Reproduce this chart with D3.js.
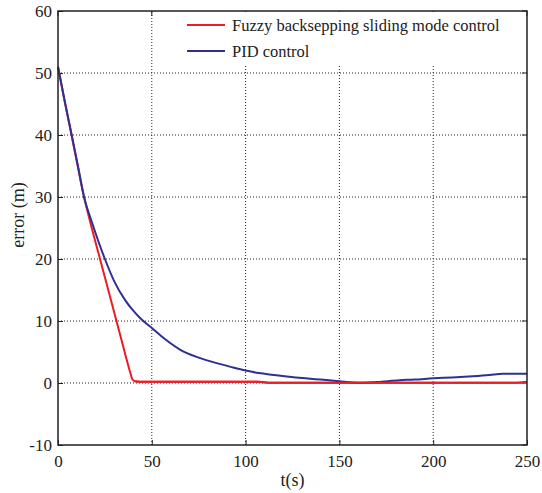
<!DOCTYPE html>
<html><head><meta charset="utf-8">
<script src="https://cdn.jsdelivr.net/npm/d3@7"></script>
<style>body{margin:0;background:#fff}svg{display:block}text{font-family:"Liberation Serif","Times New Roman",serif;fill:#222}</style>
</head><body>
<script>
const xTicks = [0, 50, 100, 150, 200, 250];
const yTicks = [-10, 0, 10, 20, 30, 40, 50, 60];
const seriesNames = ["Fuzzy backsepping sliding mode control", "PID control"];
const fuzzyT = [0, 3.5, 7.2, 10.5, 13.5, 18, 22.4, 26.8, 31, 35, 38.7, 39.6, 41, 45, 60, 80, 100, 107, 112, 150, 200, 245, 250];
const fuzzyE = [51, 45.5, 40, 35, 30.5, 25, 20, 15, 10.2, 5.6, 1.5, 0.6, 0.3, 0.2, 0.2, 0.2, 0.2, 0.2, 0.05, 0.05, 0.05, 0.05, 0.15];
const pidT = [0, 3.5, 7.3, 10.5, 13.9, 18, 25, 30, 35.7, 40, 44, 50.3, 57, 65, 75, 84.6, 92, 100, 107, 115, 122, 132, 140, 150, 157, 163, 170, 182, 190, 200, 210, 221, 230, 237, 250];
const pidE = [51, 45.6, 40, 35.2, 30, 26.0, 20, 16.4, 13.4, 11.7, 10.4, 8.8, 7.1, 5.4, 4.1, 3.2, 2.6, 2.0, 1.6, 1.3, 1.05, 0.75, 0.55, 0.3, 0.1, 0.05, 0.15, 0.45, 0.55, 0.75, 0.9, 1.1, 1.3, 1.5, 1.5];
const colors = ["#ec1c24", "#2e3192"];

const W = 542, H = 493;
const m = {l: 58, r: 15, t: 11, b: 48};
const FONT = '"Liberation Serif", "Times New Roman", serif';
const fmt = d => String(d);
const svg = d3.select("body").append("svg").attr("width", W).attr("height", H);
const x = d3.scaleLinear().domain([0, 250]).range([m.l, W - m.r]);
const y = d3.scaleLinear().domain([-10, 60]).range([H - m.b, m.t]);

// grid
const g = svg.append("g");
g.selectAll(".gx").data(xTicks.slice(1, -1)).enter().append("line")
  .attr("x1", d => x(d)).attr("x2", d => x(d)).attr("y1", y(-10)).attr("y2", y(60))
  .attr("stroke", "#222").attr("stroke-width", 1).attr("stroke-dasharray", "1,2");
g.selectAll(".gy").data(yTicks.slice(1, -1)).enter().append("line")
  .attr("y1", d => y(d)).attr("y2", d => y(d)).attr("x1", x(0)).attr("x2", x(250))
  .attr("stroke", "#222").attr("stroke-width", 1).attr("stroke-dasharray", "1,2");

// axes
const xAxis = d3.axisBottom(x).tickValues(xTicks).tickSize(-5).tickPadding(10).tickFormat(fmt);
const yAxis = d3.axisLeft(y).tickValues(yTicks).tickSize(-5).tickPadding(6).tickFormat(fmt);
const xg = svg.append("g").attr("transform", `translate(0,${y(-10)})`).call(xAxis);
const yg = svg.append("g").attr("transform", `translate(${x(0)},0)`).call(yAxis);
[xg, yg].forEach(a => {
  a.attr("font-family", FONT).attr("font-size", 17);
  a.select(".domain").remove();
  a.selectAll("line").attr("stroke", "#222");
  a.selectAll("text").attr("fill", "#222");
});
xg.selectAll("text").attr("dy", "0.71em");
yg.selectAll("text").attr("dy", "0.35em");
// top / right ticks
svg.append("g").selectAll("line").data(xTicks).enter().append("line")
  .attr("x1", d => x(d)).attr("x2", d => x(d)).attr("y1", y(60)).attr("y2", y(60) + 5).attr("stroke", "#222");
svg.append("g").selectAll("line").data(yTicks).enter().append("line")
  .attr("y1", d => y(d)).attr("y2", d => y(d)).attr("x1", x(250)).attr("x2", x(250) - 5).attr("stroke", "#222");

// lines
const line = d3.line().x(d => x(d[0])).y(d => y(d[1])).curve(d3.curveMonotoneX);
const series = [d3.zip(fuzzyT, fuzzyE), d3.zip(pidT, pidE)];
svg.append("g").selectAll("path").data(series).enter().append("path")
  .attr("d", line).attr("fill", "none").attr("stroke", (d, i) => colors[i]).attr("stroke-width", 2);
svg.append("path").datum(series[0].filter(d => d[0] >= 40)).attr("d", line)
  .attr("fill", "none").attr("stroke", colors[0]).attr("stroke-width", 2);

// legend (white background, no border)
const lg = svg.append("g").attr("font-family", FONT);
lg.append("rect").attr("x", 176).attr("y", y(60) + 1).attr("width", x(250) - 1 - 176).attr("height", 54).attr("fill", "#fff");
seriesNames.forEach((n, i) => {
  const yy = 25 + i * 26;
  lg.append("line").attr("x1", 187).attr("x2", 225).attr("y1", yy).attr("y2", yy)
    .attr("stroke", colors[i]).attr("stroke-width", 2);
  lg.append("text").attr("x", 232).attr("y", yy).attr("dy", "0.35em").attr("font-size", 16.5).text(n);
});

// frame
svg.append("rect").attr("x", x(0)).attr("y", y(60)).attr("width", x(250) - x(0)).attr("height", y(-10) - y(60))
  .attr("fill", "none").attr("stroke", "#222").attr("stroke-width", 1.5);

// axis titles
svg.append("text").attr("x", (x(0) + x(250)) / 2).attr("y", 486).attr("text-anchor", "middle")
  .attr("font-family", FONT).attr("font-size", 18).text("t(s)");
svg.append("text").attr("transform", `translate(24,215) rotate(-90)`).attr("text-anchor", "middle")
  .attr("font-family", FONT).attr("font-size", 18).text("error (m)");
</script>
</body></html>
